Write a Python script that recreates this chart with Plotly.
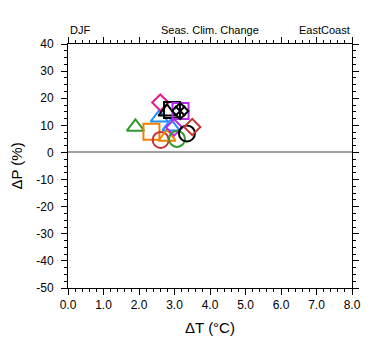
import plotly.graph_objects as go

# Data: seasonal climate change per model (DJF, EastCoast)
delta_T = [2.57, 2.90, 1.90, 2.35, 2.61, 2.60, 2.93, 2.79, 3.17, 3.16, 2.79, 2.99, 3.07, 3.35, 3.50, 3.16]
delta_P = [12.8, 9.5, 9.4, 7.6, 4.6, 18.4, 15.7, 15.0, 15.3, 15.3, 5.7, 9.2, 5.0, 7.0, 9.4, 15.3]

# marker styles (one per model)
colors = ["#1e90ff", "#1e90ff", "#2e9a2e", "#f08000", "#c83232", "#e6198c", "#000000", "#000000",
          "#b428f0", "#000000", "#f08000", "#b428f0", "#2e9a2e", "#000000", "#c83232", "#000000"]
symbols = ["triangle-up-open", "triangle-up-open", "triangle-up-open", "square-open", "circle-open",
           "diamond-open", "square-open", "triangle-up-open", "square-open", "diamond-open",
           "triangle-up-open", "diamond-open", "circle-open", "circle-open", "diamond-open", "x-thin-open"]
sizes = {"triangle-up-open": 15, "square-open": 16, "circle-open": 16, "diamond-open": 12.5, "x-thin-open": 10}

x_ticks = [0, 1, 2, 3, 4, 5, 6, 7, 8]
y_ticks = [-50, -40, -30, -20, -10, 0, 10, 20, 30, 40]

fig = go.Figure()
for x, y, c, s in zip(delta_T, delta_P, colors, symbols):
    fig.add_trace(go.Scatter(
        x=[x], y=[y], mode="markers", showlegend=False,
        marker=dict(symbol=s, size=sizes[s], color=c, line=dict(color=c, width=2)),
    ))

font = "Liberation Sans, Arial, Helvetica, sans-serif"
axis_common = dict(
    showgrid=False, showline=True, linecolor="black", linewidth=1,
    ticks="outside", ticklen=6, tickwidth=1, tickcolor="black", mirror="allticks",
    tickfont=dict(family=font, size=12, color="black"), automargin=False,
)
fig.update_xaxes(
    range=[0, 8], tickvals=x_ticks, ticktext=[f"{v:.1f}" for v in x_ticks],
    minor=dict(dtick=0.2, ticks="outside", ticklen=3, tickcolor="black"),
    title=dict(text="ΔT (°C)", font=dict(family=font, size=15, color="black"), standoff=11),
    zeroline=False, ticklabelstandoff=0, **axis_common,
)
fig.update_yaxes(
    range=[-50, 40], tickvals=y_ticks, ticktext=[str(v) for v in y_ticks],
    minor=dict(dtick=2.5, ticks="outside", ticklen=3, tickcolor="black"),
    title=dict(text="ΔP (%)", font=dict(family=font, size=15, color="black"), standoff=18),
    zeroline=True, zerolinecolor="#a0a0a0", zerolinewidth=1.5, ticklabelstandoff=5, **axis_common,
)

ann_font = dict(family=font, size=11, color="black")
fig.add_annotation(text="DJF", xref="paper", yref="paper", x=0, y=1, xanchor="left",
                   yanchor="bottom", yshift=6, showarrow=False, font=ann_font)
fig.add_annotation(text="Seas. Clim. Change", xref="paper", yref="paper", x=0.5, y=1,
                   xanchor="center", yanchor="bottom", yshift=6, showarrow=False, font=ann_font)
fig.add_annotation(text="EastCoast", xref="paper", yref="paper", x=1, y=1, xanchor="right",
                   yanchor="bottom", yshift=6, showarrow=False, font=ann_font)

fig.update_layout(
    width=380, height=355, autosize=False,
    margin=dict(l=60, r=36, t=36, b=75),
    plot_bgcolor="white", paper_bgcolor="white",
    font=dict(family=font, color="black"),
)
fig.write_html("out.html", config={"displayModeBar": False})
